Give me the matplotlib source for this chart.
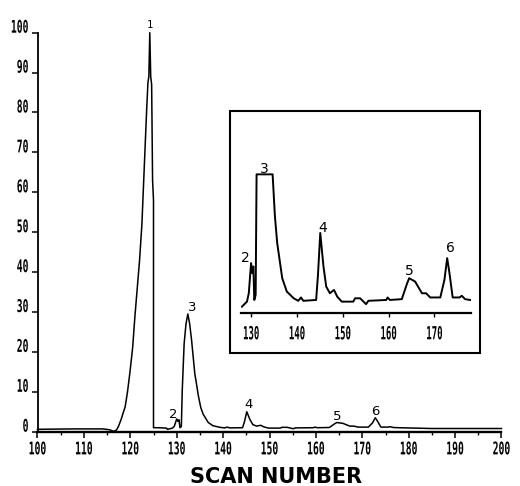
import numpy as np
import matplotlib
matplotlib.use("Agg")
import matplotlib.pyplot as plt
from matplotlib.patheffects import AbstractPathEffect
from matplotlib.transforms import Affine2D
from matplotlib.patches import Rectangle

# ---------------- data ----------------
scan = [100.0, 108.0, 114.0, 115.5, 116.4, 117.0, 117.4, 118.0, 118.9, 119.4,
        119.9, 120.5, 121.0, 121.5, 122.0, 122.5, 123.0, 123.5, 123.8, 124.0,
        124.2, 124.4, 124.6, 124.8, 125.0, 125.0, 126.0, 127.8, 128.0, 129.1,
        129.5, 130.0, 130.25, 130.5, 130.7, 131.0, 131.2, 131.6, 132.0, 132.4,
        132.8, 133.2, 133.9, 134.7, 135.2, 135.7, 136.8, 137.8, 139.3, 140.3,
        140.9, 141.4, 144.2, 144.6, 145.1, 145.8, 146.4, 147.2, 148.1, 148.8,
        149.8, 152.3, 152.7, 153.8, 155.1, 155.6, 159.5, 159.8, 160.3, 162.9,
        164.0, 164.5, 165.8, 167.3, 168.2, 169.1, 171.3, 172.2, 172.8, 173.3,
        174.0, 175.5, 176.0, 176.7, 177.8, 185.0, 200.0]
abundance = [0.6, 0.7, 0.7, 0.5, 0.1, 0.4, 1.2, 3.0, 6.3, 10.0,
             14.7, 21.0, 29.0, 36.0, 43.0, 52.0, 66.0, 80.0, 87.5, 89.0,
             100.0, 89.0, 87.0, 63.0, 58.0, 1.0, 1.0, 0.9, 0.6, 0.9,
             1.4, 3.2, 2.6, 3.0, 1.0, 1.3, 10.5, 22.0, 27.0, 29.5,
             27.0, 23.0, 14.6, 8.8, 6.0, 4.4, 2.3, 1.5, 1.1, 0.95,
             1.15, 0.95, 1.0, 2.5, 5.0, 3.0, 1.8, 1.4, 1.6, 1.2,
             0.9, 0.9, 1.1, 1.1, 0.75, 0.95, 1.0, 1.15, 1.0, 1.05,
             1.95, 2.3, 2.1, 1.4, 1.4, 1.15, 1.15, 2.2, 3.5, 2.6,
             1.15, 1.15, 1.25, 1.05, 1.0, 0.8, 0.8]

x_ticks = [100, 110, 120, 130, 140, 150, 160, 170, 180, 190, 200]
x_minor_ticks = [105, 115, 125, 135, 145, 155, 165, 175, 185, 195]
y_ticks = [0, 10, 20, 30, 40, 50, 60, 70, 80, 90, 100]
inset_ticks = [130, 140, 150, 160, 170]

peak_labels = ["1", "2", "3", "4", "5", "6"]
peak_scans = [124.2, 130.0, 132.4, 145.1, 164.5, 172.8]

inset_window = (128.0, 177.8)   # scans shown in the inset
inset_clip = 8.5                # plotter clips the inset trace here

x_label = "SCAN NUMBER"

# ---------------- layout / style ----------------
PX = 1 / 1.389  # points per pixel at dpi 100
main_label_offsets = [(0, 5), (-3, 0.5), (4, 3.4), (1.3, 3.4), (0.8, 2.7), (0, 3)]   # px
inset_label_offsets = [(-5.7, 1.4), (2.2, 1.6), (2.6, 1.2), (0.2, 3.2), (3, 6.4)]   # px


class VStretch(AbstractPathEffect):
    """Stretch glyphs vertically about the baseline (dot-matrix plotter look)."""
    def __init__(self, sy=1.8):
        super().__init__()
        self.sy = sy

    def draw_path(self, renderer, gc, tpath, affine, rgbFace=None):
        t = Affine2D().scale(1.0, self.sy) + affine
        renderer.draw_path(gc, tpath, t, rgbFace)


def style_ticklabels(labels, size, sy):
    for lbl in labels:
        lbl.set_fontfamily("DejaVu Sans Mono")
        lbl.set_fontweight("bold")
        lbl.set_fontsize(size)
        lbl.set_verticalalignment("baseline")
        lbl.set_path_effects([VStretch(sy)])


scan_arr = np.asarray(scan)
ab_arr = np.asarray(abundance)

W, H = 520, 486
fig = plt.figure(figsize=(W / 100, H / 100), dpi=100)

# ---------------- main axes ----------------
ax = fig.add_axes([37.5 / W, 1 - 431.7 / H, 464 / W, 399 / H])
ax.plot(scan_arr, ab_arr, color="black", lw=1.1, clip_on=False)
ax.set_xlim(100, 200)
ax.set_ylim(0, 100)
for s in ("top", "right"):
    ax.spines[s].set_visible(False)
ax.spines["left"].set_linewidth(1.3)
ax.spines["bottom"].set_linewidth(1.7)

ax.set_xticks(x_ticks, labels=[str(v) for v in x_ticks])
ax.set_xticks(x_minor_ticks, minor=True)
ax.set_yticks(y_ticks, labels=[str(v) for v in y_ticks])
ax.tick_params(axis="both", which="major", direction="out", length=6 * PX, width=1.1, colors="black")
ax.tick_params(axis="x", which="major", pad=(455 - 432.3 - 6) * PX)
ax.tick_params(axis="y", which="major", pad=3 * PX)
ax.tick_params(axis="x", which="minor", direction="out", length=3.5 * PX, width=1.0)
style_ticklabels(ax.get_xticklabels() + ax.get_yticklabels(), 7, 1.8)

peak_heights = np.interp(peak_scans, scan_arr, ab_arr)
for i, (lab, xs, hs) in enumerate(zip(peak_labels, peak_scans, peak_heights)):
    dx, dy = main_label_offsets[i]
    if lab == "1":
        kw = dict(family="DejaVu Sans Mono", fontsize=7.5)
    else:
        kw = dict(family="DejaVu Sans", fontsize=9.5)
    ax.annotate(lab, xy=(xs, hs), xytext=(dx * PX, dy * PX), textcoords="offset points",
                ha="center", va="baseline", color="black", annotation_clip=False, **kw)

# ---------------- inset ----------------
box = Rectangle((230 / W, 1 - 353.3 / H), 250 / W, 242.6 / H, transform=fig.transFigure,
                fill=False, edgecolor="black", linewidth=1.5)
fig.add_artist(box)

ax2 = fig.add_axes([241 / W, 1 - 312.7 / H, 230 / W, 202 / H])
ax2.patch.set_visible(False)
mask = (scan_arr >= inset_window[0]) & (scan_arr <= inset_window[1])
ax2.plot(scan_arr[mask], np.minimum(ab_arr[mask], inset_clip), color="black", lw=1.4)
ax2.set_xlim(127.8, 178.0)
ax2.set_ylim(0.24, 12.3)
for s in ("top", "right", "left"):
    ax2.spines[s].set_visible(False)
ax2.spines["bottom"].set_linewidth(1.6)
ax2.set_yticks([])
ax2.set_xticks(inset_ticks, labels=[str(v) for v in inset_ticks])
ax2.tick_params(axis="x", direction="out", length=4 * PX, width=1.0, pad=(26.6 - 4) * PX)
style_ticklabels(ax2.get_xticklabels(), 6.5, 2.0)

inset_heights = np.minimum(np.interp(peak_scans[1:], scan_arr, ab_arr), inset_clip)
for i, (lab, xs, hs) in enumerate(zip(peak_labels[1:], peak_scans[1:], inset_heights)):
    dx, dy = inset_label_offsets[i]
    ax2.annotate(lab, xy=(xs, hs), xytext=(dx * PX, dy * PX), textcoords="offset points",
                 ha="center", va="baseline", color="black", family="DejaVu Sans",
                 fontsize=10, annotation_clip=False)

# ---------------- axis title ----------------
fig.text(276 / W, 1 - 477 / H, x_label, ha="center", va="center",
         fontsize=15, fontweight="bold", family="DejaVu Sans", color="black")

fig.savefig("out.png", dpi=100)
